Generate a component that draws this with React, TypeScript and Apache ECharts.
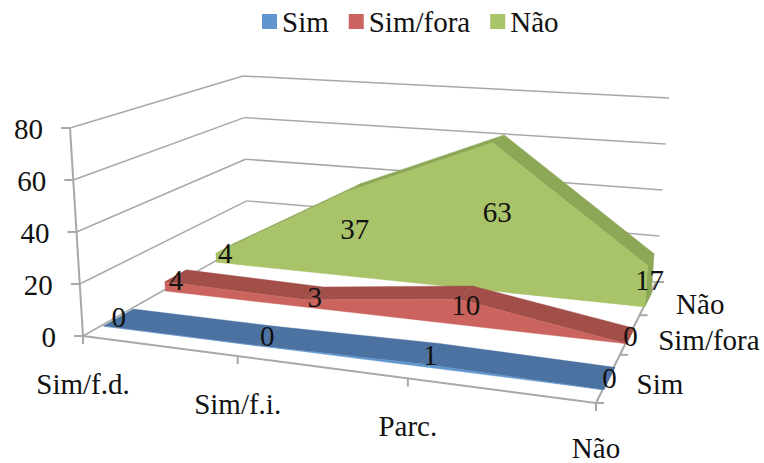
import React, { useEffect, useRef } from "react";
import * as echarts from "echarts";

const categories = ["Sim/f.d.", "Sim/f.i.", "Parc.", "Não"];
const seriesNames = ["Sim", "Sim/fora", "Não"];
const simValues = [0, 0, 1, 0];
const simForaValues = [4, 3, 10, 0];
const naoValues = [4, 37, 63, 17];
const valueTicks = [0, 20, 40, 60, 80];

const FONT = '29px "Liberation Serif"';
const TEXT = "#111111";
const LINE = "#a8a8a8";

// Perspective frame of the 3D box (layout only)
const floor: number[][] = [[83, 336], [596, 403], [656, 282], [248, 242.5]];
const roof: number[][] = [[70, 128], [608, 168], [669, 98], [243, 76]];
const slabStart = [0.085, 0.42, 0.745];
const slabDepth = [0.155, 0.13, 0.13];
const slabNudgeX = 3;

const palette = [
  { legend: "#5f96ce", front: "#5f96ce", top: "#4b72a0", side: "#4b72a0" },
  { legend: "#cb645e", front: "#cb645e", top: "#a24f49", side: "#a24f49" },
  { legend: "#a9c369", front: "#a9c369", top: "#8ca755", side: "#8ca755" },
];

function homography(q: number[][]) {
  const [[x0, y0], [x1, y1], [x2, y2], [x3, y3]] = q;
  const dx1 = x1 - x2, dx2 = x3 - x2, dy1 = y1 - y2, dy2 = y3 - y2;
  const sx = x0 - x1 + x2 - x3, sy = y0 - y1 + y2 - y3;
  const den = dx1 * dy2 - dx2 * dy1;
  const g = (sx * dy2 - dx2 * sy) / den;
  const h = (dx1 * sy - sx * dy1) / den;
  const a = x1 - x0 + g * x1, b = x3 - x0 + h * x3;
  const d = y1 - y0 + g * y1, e = y3 - y0 + h * y3;
  return (u: number, v: number) => {
    const w = g * u + h * v + 1;
    return [(a * u + b * v + x0) / w, (d * u + e * v + y0) / w];
  };
}
const floorMap = homography(floor);
const roofMap = homography(roof);
// u: along categories, v: depth, z: height, all 0..1
function project(u: number, v: number, z: number) {
  const p = floorMap(u, v);
  const q = roofMap(u, v);
  return [p[0] + (q[0] - p[0]) * z, p[1] + (q[1] - p[1]) * z];
}
function projectSlab(u: number, v: number, z: number) {
  const p = project(u, v, z);
  return [p[0] + slabNudgeX * (1 - u * 0.6), p[1]];
}

function normalizer(params: any, api: any) {
  const cs = params.coordSys;
  return (cat: number, val: number) => {
    const c = api.coord([cat, val]);
    return [(c[0] - cs.x) / cs.width, (cs.y + cs.height - c[1]) / cs.height];
  };
}

function poly(points: number[][], fill: string, z2: number) {
  return {
    type: "polygon",
    z2,
    shape: { points },
    style: { fill, stroke: fill, lineWidth: 0.4 },
  };
}
function seg(a: number[], b: number[], width = 2) {
  return {
    type: "line",
    z2: 1,
    shape: { x1: a[0], y1: a[1], x2: b[0], y2: b[1] },
    style: { stroke: LINE, lineWidth: width },
  };
}
function label(text: string, x: number, y: number, align: string, z2 = 5) {
  return {
    type: "text",
    z2,
    style: { text, x, y, font: FONT, fill: TEXT, textAlign: align, textVerticalAlign: "middle" },
  };
}

function slabSeries(index: number, values: number[]) {
  const colors = palette[index];
  const v0 = slabStart[index];
  const v1 = v0 + slabDepth[index];
  return {
    type: "custom",
    name: seriesNames[index],
    coordinateSystem: "cartesian2d",
    z: 5 - index,
    silent: true,
    clip: false,
    itemStyle: { color: colors.legend },
    data: values.map((value, i) => [i, value]),
    renderItem(params: any, api: any) {
      const norm = normalizer(params, api);
      const i = params.dataIndex;
      const children: any[] = [];
      const [u, z] = norm(i, values[i]);
      if (i < values.length - 1) {
        const [u2, z2] = norm(i + 1, values[i + 1]);
        children.push(
          poly([projectSlab(u, v0, z), projectSlab(u2, v0, z2), projectSlab(u2, v1, z2), projectSlab(u, v1, z)], colors.top, 1)
        );
      } else {
        children.push(
          poly([projectSlab(u, v0, 0), projectSlab(u, v0, z), projectSlab(u, v1, z), projectSlab(u, v1, 0)], colors.side, 1)
        );
      }
      if (i === 0) {
        const front = values.map((value, k) => {
          const [uk, zk] = norm(k, value);
          return projectSlab(uk, v0, zk);
        });
        const [uLast] = norm(values.length - 1, 0);
        children.push(poly([projectSlab(u, v0, 0), ...front, projectSlab(uLast, v0, 0)], colors.front, 2));
      }
      const m = projectSlab(u, (v0 + v1) / 2, z / 2);
      children.push(label(String(values[i]), m[0], m[1], "center"));
      return { type: "group", children };
    },
  };
}

const frameSeries = {
  type: "custom",
  name: "frame",
  coordinateSystem: "cartesian2d",
  z: 1,
  silent: true,
  clip: false,
  data: valueTicks.map((t, i) => [i, t]),
  renderItem(params: any, api: any) {
    const norm = normalizer(params, api);
    const i = params.dataIndex;
    const [, z] = norm(0, valueTicks[i]);
    const children: any[] = [];
    const a = project(0, 0, z), b = project(0, 1, z), c = project(1, 1, z);
    children.push(seg(a, b, 1.5), seg(b, c, 1.5));
    children.push(seg([a[0] - 9, a[1]], a));
    children.push(label(String(valueTicks[i]), a[0] - 27, a[1] + 1, "right"));
    if (i === 0) {
      children.push(seg(project(0, 0, 0), project(0, 0, 1)));
      children.push(seg(project(0, 0, 0), project(1, 0, 0)));
      children.push(seg(project(1, 0, 0), project(1, 1, 0)));
      categories.forEach((cat, k) => {
        const [uk] = norm(k, 0);
        const p = project(uk, 0, 0);
        children.push(seg(p, [p[0], p[1] + 8]));
        children.push(label(cat, p[0], Math.min(p[1] + 48, 448), "center"));
      });
      seriesNames.forEach((name, k) => {
        const t = project(1, k / 3, 0);
        children.push(seg(t, [t[0] + 8, t[1]]));
        const n = project(1, (k + 0.5) / 3, 0);
        children.push(label(name, n[0] + 28, n[1] + 6, "left"));
      });
      const end = project(1, 1, 0);
      children.push(seg(end, [end[0] + 8, end[1]]));
    }
    return { type: "group", children };
  },
};

export default function App() {
  const ref = useRef<HTMLDivElement>(null);
  useEffect(() => {
    const chart = echarts.init(ref.current!, undefined, { renderer: "svg" });
    chart.setOption({
      animation: false,
      backgroundColor: "#ffffff",
      legend: {
        data: seriesNames,
        selectedMode: false,
        left: 257,
        top: 2,
        icon: "rect",
        itemWidth: 15,
        itemHeight: 15,
        itemGap: 20,
        textStyle: { fontFamily: "Liberation Serif", fontSize: 29, color: TEXT },
      },
      grid: { left: 100, right: 100, top: 100, bottom: 100 },
      xAxis: { type: "category", data: categories, boundaryGap: false, show: false },
      yAxis: { type: "value", min: 0, max: 80, interval: 20, show: false },
      series: [frameSeries, slabSeries(2, naoValues), slabSeries(1, simForaValues), slabSeries(0, simValues)],
    });
    return () => chart.dispose();
  }, []);
  return <div ref={ref} style={{ position: "absolute", left: 0, top: 0, width: 764, height: 463 }} />;
}
